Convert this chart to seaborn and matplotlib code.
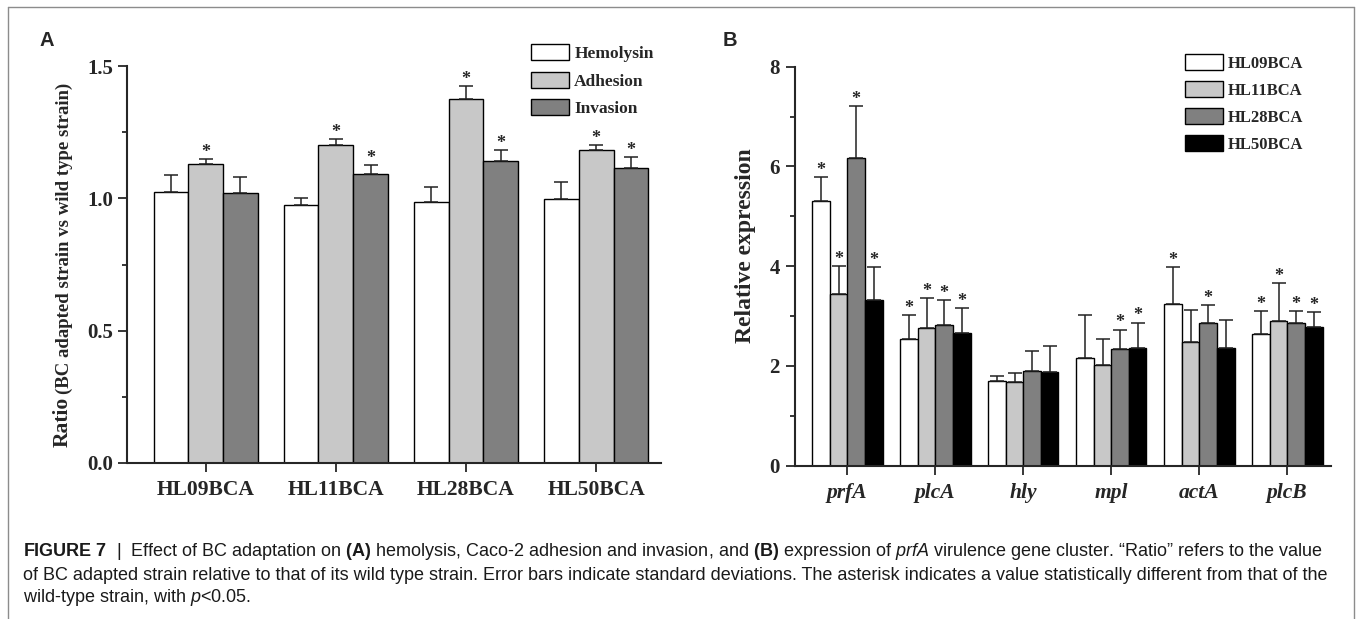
import numpy as np
import pandas as pd
import matplotlib
matplotlib.use("Agg")
import matplotlib.pyplot as plt
import seaborn as sns
from matplotlib.lines import Line2D
from matplotlib.ticker import MultipleLocator, FormatStrFormatter

# ---- panel A: hemolysis / adhesion / invasion ratios ----
strains = ["HL09BCA", "HL11BCA", "HL28BCA", "HL50BCA"]
assays = ["Hemolysin", "Adhesion", "Invasion"]
hemolysin = [1.023, 0.973, 0.986, 0.996]
hemolysin_sd = [0.065, 0.029, 0.058, 0.064]
adhesion = [1.128, 1.200, 1.374, 1.182]
adhesion_sd = [0.020, 0.023, 0.052, 0.018]
invasion = [1.021, 1.091, 1.140, 1.113]
invasion_sd = [0.058, 0.034, 0.044, 0.042]
hemolysin_sig = [0, 0, 0, 0]
adhesion_sig = [1, 1, 1, 1]
invasion_sig = [0, 1, 1, 1]

# ---- panel B: relative expression of prfA cluster genes ----
genes = ["prfA", "plcA", "hly", "mpl", "actA", "plcB"]
hl09 = [5.30, 2.55, 1.69, 2.16, 3.25, 2.65]
hl09_sd = [0.48, 0.47, 0.10, 0.86, 0.73, 0.45]
hl11 = [3.45, 2.76, 1.67, 2.01, 2.48, 2.91]
hl11_sd = [0.56, 0.61, 0.18, 0.54, 0.65, 0.75]
hl28 = [6.17, 2.83, 1.89, 2.33, 2.86, 2.87]
hl28_sd = [1.04, 0.50, 0.41, 0.40, 0.37, 0.24]
hl50 = [3.33, 2.66, 1.88, 2.35, 2.35, 2.79]
hl50_sd = [0.65, 0.51, 0.51, 0.52, 0.58, 0.30]
hl09_sig = [1, 1, 0, 0, 1, 1]
hl11_sig = [1, 1, 0, 0, 0, 1]
hl28_sig = [1, 1, 0, 1, 1, 1]
hl50_sig = [1, 1, 0, 1, 0, 1]

W, H = 1356, 619

sns.set_style("ticks")
plt.rcParams["font.family"] = ["Liberation Serif", "DejaVu Serif"]
plt.rcParams["font.weight"] = "bold"
plt.rcParams["mathtext.fontset"] = "custom"
plt.rcParams["mathtext.rm"] = "Liberation Sans:weight=normal"
plt.rcParams["mathtext.it"] = "Liberation Sans:style=italic:weight=normal"
plt.rcParams["mathtext.bf"] = "Liberation Sans:weight=bold"


def fx(x):
    return x / W


def fy(y):
    return 1 - y / H


def long_table(cats, cat_name, series, names, hue_name):
    rows = []
    for name, vals in zip(names, series):
        for c, v in zip(cats, vals):
            rows.append({cat_name: c, hue_name: name, "value": v})
    return pd.DataFrame(rows)


def style_axis(ax, ylim, major, minor):
    ax.set_ylim(*ylim)
    ax.yaxis.set_major_locator(MultipleLocator(major))
    ax.yaxis.set_minor_locator(MultipleLocator(minor))
    sns.despine(ax=ax)
    for s in ["left", "bottom"]:
        ax.spines[s].set_linewidth(1.5)
    ax.tick_params(axis="both", which="major", length=6.5, width=1.3,
                   direction="out", labelsize=15, pad=4)
    ax.tick_params(axis="y", which="minor", length=3.5, width=1.3)
    ax.tick_params(axis="x", which="minor", length=0)
    ax.set_xlabel("")
    ax.set_ylabel("")


def add_errors(ax, sds, sigs):
    for cont, sd, sig in zip(ax.containers, sds, sigs):
        xs = [p.get_x() + p.get_width() / 2 for p in cont]
        ys = [p.get_height() for p in cont]
        ax.errorbar(xs, ys, yerr=[np.zeros(len(sd)), sd], fmt="none",
                    ecolor="#222222", elinewidth=1.1, capsize=5, capthick=1.1,
                    zorder=3)
        for x, y, e, s in zip(xs, ys, sd, sig):
            if s:
                ax.annotate("*", xy=(x, y + e), xytext=(0, 1.5),
                            textcoords="offset points", ha="center",
                            va="baseline", fontsize=13, annotation_clip=False)


fig = plt.figure(figsize=(W / 100, H / 100), dpi=100)

# ---------- panel A ----------
axA = fig.add_axes([fx(127.5), fy(463), fx(661.3) - fx(127.5), (463 - 66) / H])
dfA = long_table(strains, "strain", [hemolysin, adhesion, invasion], assays, "assay")
sns.barplot(data=dfA, x="strain", y="value", hue="assay", order=strains,
            hue_order=assays, palette=["#ffffff", "#c8c8c8", "#808080"],
            saturation=1, errorbar=None, width=0.8, edgecolor="black",
            linewidth=1.0, legend=False, ax=axA)
axA.set_xlim(-0.6, 3.5)
style_axis(axA, (0, 1.5), 0.5, 0.25)
axA.yaxis.set_major_formatter(FormatStrFormatter("%.1f"))
axA.tick_params(axis="x", labelsize=15.5, pad=6)
add_errors(axA, [hemolysin_sd, adhesion_sd, invasion_sd],
           [hemolysin_sig, adhesion_sig, invasion_sig])
fsA = 12.5
axA.legend(axA.containers, assays, loc="upper left",
           bbox_to_anchor=(fx(531), fy(44)), bbox_transform=fig.transFigure,
           frameon=False, fontsize=fsA, borderpad=0, borderaxespad=0,
           handlelength=38 / (fsA * 100 / 72), handleheight=18.5 / (fsA * 100 / 72),
           labelspacing=0.55, handletextpad=0.3)

# ---------- panel B ----------
axB = fig.add_axes([fx(794.5), fy(465.7), fx(1331.3) - fx(794.5), (465.7 - 66.7) / H])
dfB = long_table(genes, "gene", [hl09, hl11, hl28, hl50], strains, "strain")
sns.barplot(data=dfB, x="gene", y="value", hue="strain", order=genes,
            hue_order=strains,
            palette=["#ffffff", "#c8c8c8", "#808080", "#000000"],
            saturation=1, errorbar=None, width=0.8, edgecolor="black",
            linewidth=1.0, legend=False, ax=axB)
axB.set_xlim(-0.6, 5.5)
style_axis(axB, (0, 8), 2, 1)
axB.tick_params(axis="x", labelsize=15.5, pad=6)
for lbl in axB.get_xticklabels():
    lbl.set_fontstyle("italic")
add_errors(axB, [hl09_sd, hl11_sd, hl28_sd, hl50_sd],
           [hl09_sig, hl11_sig, hl28_sig, hl50_sig])
fsB = 12
axB.legend(axB.containers, strains, loc="upper left",
           bbox_to_anchor=(fx(1184.5), fy(54)), bbox_transform=fig.transFigure,
           frameon=False, fontsize=fsB, borderpad=0, borderaxespad=0,
           handlelength=38.5 / (fsB * 100 / 72), handleheight=18.7 / (fsB * 100 / 72),
           labelspacing=0.55, handletextpad=0.3)

# ---------- axis titles ----------
fig.text(fx(746), fy(246), "Relative expression", rotation=90, ha="center",
         va="center", fontsize=17, fontweight="bold")
t_ratio = fig.text(fx(63), fy(447), "Ratio", rotation=90, ha="center",
                   va="bottom", fontsize=15.5, fontweight="bold")
fig.canvas.draw()
renderer = fig.canvas.get_renderer()
bb = t_ratio.get_window_extent(renderer)
fig.text(fx(64), (bb.y1 + 3) / H, "(BC adapted strain vs wild type strain)",
         rotation=90, ha="center", va="bottom", fontsize=13.5, fontweight="bold")

# panel letters
fig.text(fx(46.5), fy(41), "A", ha="center", va="center", fontsize=14.5,
         fontweight="bold", family="Liberation Sans")
fig.text(fx(729.7), fy(41), "B", ha="center", va="center", fontsize=14.5,
         fontweight="bold", family="Liberation Sans")

# ---------- caption ----------
cap = [
    r"$\mathbf{FIGURE\ 7}$  |  Effect of BC adaptation on $\mathbf{(A)}$ hemolysis, "
    r"Caco-2 adhesion and invasion, and $\mathbf{(B)}$ expression of "
    r"$\mathit{prfA}$ virulence gene cluster. “Ratio” refers to the value",
    "of BC adapted strain relative to that of its wild type strain. Error bars "
    "indicate standard deviations. The asterisk indicates a value statistically "
    "different from that of the",
    r"wild-type strain, with $\mathit{p}$<0.05.",
]
cap_texts = []
for i, line in enumerate(cap):
    cap_texts.append(fig.text(fx(22.5), fy(552 + 23 * i), line, ha="left",
                              va="center", fontsize=11, fontweight="normal",
                              family="Liberation Sans", color="#1a1a1a"))
# fit first caption line to the reference width
fig.canvas.draw()
w0 = cap_texts[0].get_window_extent(renderer).width
for t in cap_texts:
    t.set_fontsize(11 * 1296 / w0)

# ---------- frame ----------
fc = "#8c8c8c"
fig.add_artist(Line2D([fx(8), fx(1354)], [fy(7), fy(7)], color=fc, lw=1,
                      transform=fig.transFigure))
fig.add_artist(Line2D([fx(8), fx(8)], [fy(7), 0], color=fc, lw=1,
                      transform=fig.transFigure))
fig.add_artist(Line2D([fx(1354), fx(1354)], [fy(7), 0], color=fc, lw=1,
                      transform=fig.transFigure))

fig.savefig("out.png", dpi=100)
